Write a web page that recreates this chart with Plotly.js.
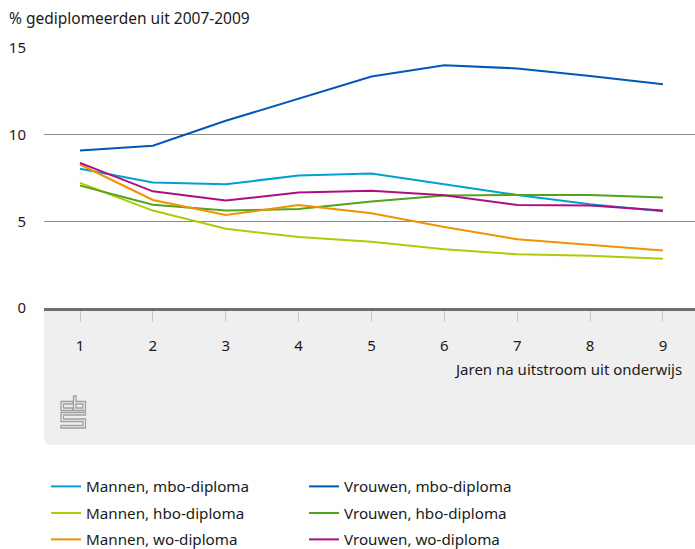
<!DOCTYPE html>
<html>
<head>
<meta charset="utf-8">
<script src="https://cdn.plot.ly/plotly-3.0.1.min.js"></script>
<style>html,body{margin:0;padding:0;background:#fff;}#chart{width:695px;height:549px;}</style>
</head>
<body>
<div id="chart"></div>
<script>
var years = [1, 2, 3, 4, 5, 6, 7, 8, 9];
var seriesNames = ["Mannen, mbo-diploma", "Vrouwen, mbo-diploma", "Mannen, hbo-diploma", "Vrouwen, hbo-diploma", "Mannen, wo-diploma", "Vrouwen, wo-diploma"];
var mannenMbo = [8.03, 7.24, 7.14, 7.64, 7.76, 7.14, 6.52, 5.98, 5.58];
var vrouwenMbo = [9.09, 9.36, 10.80, 12.06, 13.35, 14.01, 13.82, 13.38, 12.91];
var mannenHbo = [7.21, 5.62, 4.57, 4.09, 3.82, 3.39, 3.10, 3.01, 2.84];
var vrouwenHbo = [7.06, 5.96, 5.62, 5.71, 6.14, 6.49, 6.52, 6.52, 6.37];
var mannenWo = [8.28, 6.23, 5.36, 5.94, 5.46, 4.67, 3.97, 3.65, 3.32];
var vrouwenWo = [8.37, 6.73, 6.20, 6.66, 6.77, 6.50, 5.94, 5.91, 5.62];
var yTicks = [0, 5, 10, 15];
var yTitle = "% gediplomeerden uit 2007-2009";
var xTitle = "Jaren na uitstroom uit onderwijs";

var colors = ["#00a1cd", "#0058b8", "#afcb05", "#53a31d", "#f39200", "#af0e80"];
var values = [mannenMbo, vrouwenMbo, mannenHbo, vrouwenHbo, mannenWo, vrouwenWo];
var legendIds = ["legend", "legend", "legend2", "legend2", "legend3", "legend3"];
var FONT = "Noto Sans, sans-serif";

var traces = values.map(function (v, i) {
  return {x: years, y: v, name: seriesNames[i], type: "scatter", mode: "lines",
    line: {color: colors[i], width: 2}, legend: legendIds[i], hoverinfo: "x+y+name"};
});

// pixel helpers
var L = 44, T = 48, W = 651, H = 260;
function px(x) { return (x - L) / W; }
function py(y) { return (T + H - y) / H; }
function path(pts, close) {
  var s = pts.map(function (p, i) { return (i ? "L" : "M") + px(p[0]).toFixed(5) + "," + py(p[1]).toFixed(5); }).join(" ");
  return s + (close ? " Z" : "");
}
var r = 8;
var band = "M" + px(44) + "," + py(308) + " L" + px(695) + "," + py(308) + " L" + px(695) + "," + py(445) +
  " L" + px(44 + r) + "," + py(445) + " Q" + px(44) + "," + py(445) + " " + px(44) + "," + py(445 - r) + " Z";

var logoColor = "#a0a0a0";
var lw = 1.3;
var shapes = [
  {type: "path", xref: "paper", yref: "paper", path: band, fillcolor: "#efefef", line: {width: 0}, layer: "below"},
  {type: "path", xref: "paper", yref: "paper", path: path([[73, 401.5], [61, 401.5], [61, 410.5], [73, 410.5], [73, 408], [63.5, 408], [63.5, 404], [73, 404]], true), line: {color: logoColor, width: lw}},
  {type: "path", xref: "paper", yref: "paper", path: path([[73.5, 396], [76, 396], [76, 401.5], [85.5, 401.5], [85.5, 410.5], [73.5, 410.5]], true), line: {color: logoColor, width: lw}},
  {type: "path", xref: "paper", yref: "paper", path: path([[76, 404], [83, 404], [83, 408], [76, 408]], true), line: {color: logoColor, width: lw}},
  {type: "path", xref: "paper", yref: "paper", path: path([[85.5, 412.5], [61, 412.5], [61, 421.5], [83, 421.5], [83, 425.5], [61, 425.5], [61, 428], [85.5, 428], [85.5, 419], [63.5, 419], [63.5, 415], [85.5, 415]], true), line: {color: logoColor, width: lw}}
];

var annotations = [
  {text: yTitle, xref: "paper", yref: "paper", x: px(7), y: py(18), xanchor: "left", yanchor: "middle", showarrow: false, font: {family: FONT, size: 15.5, color: "#1a1a1a"}},
  {text: xTitle, xref: "paper", yref: "paper", x: px(684), y: py(369), xanchor: "right", yanchor: "middle", showarrow: false, font: {family: FONT, size: 15, color: "#1a1a1a"}}
];

function legendAt(yPix) {
  return {orientation: "h", x: px(46), y: py(yPix), xanchor: "left", yanchor: "middle",
    entrywidth: 213, entrywidthmode: "pixels", font: {family: FONT, size: 15.2, color: "#1a1a1a"},
    traceorder: "normal", bgcolor: "rgba(0,0,0,0)", borderwidth: 0};
}

var layout = {
  width: 695, height: 549,
  margin: {l: L, r: 0, t: T, b: 549 - T - H, pad: 0, autoexpand: false},
  paper_bgcolor: "#ffffff", plot_bgcolor: "#ffffff",
  font: {family: FONT, size: 15, color: "#1a1a1a"},
  showlegend: true,
  legend: legendAt(486.5),
  legend2: legendAt(513),
  legend3: legendAt(539.5),
  xaxis: {range: [0.506, 9.44], tickvals: years, ticktext: years.map(String), ticks: "outside", ticklen: 11,
    tickcolor: "#c8c8c8", tickwidth: 1, showgrid: false, zeroline: false, showline: true,
    linecolor: "#6e6e6e", linewidth: 3, ticklabelstandoff: 11, fixedrange: true,
    tickfont: {family: FONT, size: 15, color: "#1a1a1a"}},
  yaxis: {range: [0, 15], tickvals: yTicks, ticktext: yTicks.map(String), showgrid: true, gridcolor: "#8a8a8a",
    gridwidth: 1, zeroline: false, showline: false, ticks: "", ticklabelstandoff: 17, fixedrange: true,
    tickfont: {family: FONT, size: 15, color: "#1a1a1a"}},
  shapes: shapes,
  annotations: annotations
};

Plotly.newPlot("chart", traces, layout, {displayModeBar: false});
</script>
</body>
</html>
